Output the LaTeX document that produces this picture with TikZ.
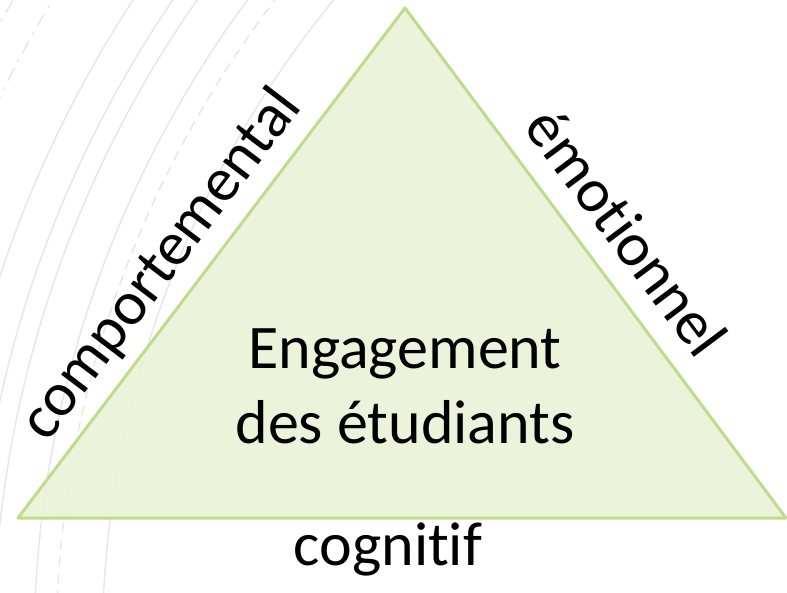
\documentclass[tikz,border=0pt]{standalone}
\usepackage{fontspec}
\setmainfont{Carlito}[Ligatures=NoCommon]
\definecolor{edgegreen}{RGB}{190,221,140}
\definecolor{fillgreen}{RGB}{232,243,214}
\definecolor{arcgray}{RGB}{231,231,231}
\tikzset{every node/.style={inner sep=0pt}}
\tikzset{big/.style={font=\fontsize{62}{75}\selectfont}}
\tikzset{bgarc/.style={draw=arcgray,line width=1.5pt}}
\tikzset{tri/.style={draw=edgegreen,line width=3pt,line join=round,fill=fillgreen,fill opacity=.88}}

\begin{document}
\begin{tikzpicture}[x=1pt,y=1pt]
  \useasboundingbox (0,0) rectangle (787,592);
  % faint background arcs
  \begin{scope}
    \clip (0,0) rectangle (787,592);
    \foreach \r in {1190,1157,1137,1096,1028}
      \draw[bgarc] (1130,-58) circle (\r pt);
    \foreach \r in {1292,1258}
      \draw[bgarc,dash pattern=on 14pt off 7pt on 3pt off 7pt] (1130,-58) circle (\r pt);
    \draw[bgarc,dash pattern=on 10pt off 7pt] (1130,-58) circle (1074pt);
  \end{scope}
  \coordinate (top) at (405,584);
  \coordinate (left) at (18,74);
  \coordinate (right) at (786,74);
  \draw[tri] (left) -- (top) -- (right) -- cycle;
  \node[big,align=center] (core) at (405,206) {Engagement\\des étudiants};
  \node[big,anchor=base,rotate=52.8] (comp) at (175,317) {comportemental};
  \node[big,anchor=base,rotate=-53.2] (emo) at (610,347.5) {émotionnel};
  \node[big,anchor=base] (cog) at (388,27) {cognitif};
\end{tikzpicture}
\end{document}
